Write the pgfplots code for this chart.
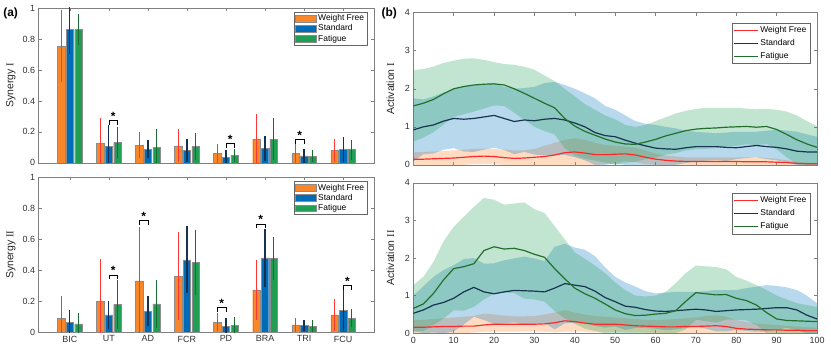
\documentclass[border=0pt]{standalone}
\usepackage{fontspec}
\setmainfont{Liberation Sans}
\newfontfamily\romanfont{Liberation Serif}
\usepackage{pgfplots}
\pgfplotsset{compat=1.18}
\usepackage{pgfplotstable}

\definecolor{cO}{RGB}{248,134,42}
\definecolor{cB}{RGB}{0,108,184}
\definecolor{cG}{RGB}{34,158,84}
\definecolor{eO}{RGB}{255,55,50}
\definecolor{eB}{RGB}{22,50,82}
\definecolor{eG}{RGB}{28,105,52}
\definecolor{lR}{RGB}{255,40,40}
\definecolor{lB}{RGB}{24,52,78}
\definecolor{lG}{RGB}{34,112,44}
\definecolor{fO}{RGB}{255,140,50}
\definecolor{fB}{RGB}{0,114,189}
\definecolor{fG}{RGB}{33,160,85}

% synergy weights: mean and sd per muscle
\pgfplotstableread{
x o oe b be g ge
1 0.755 0.215 0.860 0.140 0.860 0.085
2 0.125 0.147 0.108 0.119 0.132 0.082
3 0.114 0.067 0.089 0.041 0.100 0.105
4 0.110 0.090 0.080 0.057 0.105 0.070
5 0.060 0.045 0.035 0.030 0.050 0.025
6 0.153 0.143 0.093 0.065 0.153 0.119
7 0.062 0.044 0.045 0.026 0.043 0.023
8 0.080 0.057 0.086 0.062 0.086 0.048
}\synA
\pgfplotstableread{
x o oe b be g ge
1 0.090 0.130 0.062 0.065 0.054 0.053
2 0.198 0.255 0.112 0.075 0.180 0.140
3 0.331 0.334 0.137 0.078 0.183 0.140
4 0.363 0.270 0.467 0.200 0.450 0.195
5 0.066 0.040 0.040 0.033 0.043 0.040
6 0.273 0.177 0.480 0.170 0.475 0.120
7 0.047 0.026 0.043 0.020 0.040 0.021
8 0.112 0.085 0.140 0.118 0.090 0.042
}\synB

% activation profiles: mean, upper, lower
\pgfplotstableread{
t r ru rl n nu nl g gu gl
0 0.15 0.33 0 0.92 1.75 0.09 1.55 2.49 0.61
2.5 0.15 0.34 0 1.00 1.72 0.28 1.62 2.52 0.72
5 0.16 0.35 0 1.05 1.80 0.30 1.72 2.58 0.86
7.5 0.17 0.37 0 1.15 1.90 0.40 1.87 2.68 1.06
10 0.18 0.38 0 1.22 2.00 0.44 2.00 2.74 1.26
12.5 0.20 0.40 0 1.20 2.05 0.35 2.06 2.79 1.33
15 0.22 0.42 0.02 1.22 2.10 0.34 2.10 2.80 1.40
17.5 0.23 0.43 0.03 1.26 2.12 0.40 2.12 2.76 1.48
20 0.22 0.42 0.02 1.30 2.15 0.45 2.13 2.70 1.56
22.5 0.19 0.40 0 1.22 2.05 0.39 2.10 2.65 1.55
25 0.17 0.38 0 1.14 2.00 0.28 2.00 2.63 1.37
27.5 0.18 0.38 0 1.18 2.02 0.34 1.88 2.58 1.18
30 0.20 0.42 0 1.16 2.05 0.27 1.75 2.50 1.00
32.5 0.22 0.50 0 1.20 2.15 0.25 1.62 2.35 0.89
35 0.26 0.58 0 1.22 2.18 0.26 1.50 2.20 0.80
37.5 0.32 0.66 0 1.18 2.10 0.26 1.22 2.00 0.44
40 0.34 0.70 0 1.10 2.00 0.20 1.02 1.80 0.24
42.5 0.31 0.66 0 1.00 1.88 0.12 0.88 1.60 0.16
45 0.27 0.58 0 0.85 1.75 0 0.78 1.45 0.11
47.5 0.27 0.52 0.02 0.77 1.55 0 0.68 1.30 0.06
50 0.28 0.50 0.06 0.74 1.45 0.03 0.60 1.20 0
52.5 0.29 0.48 0.10 0.65 1.30 0 0.55 1.05 0.05
55 0.26 0.45 0.07 0.57 1.15 0 0.54 1.00 0.08
57.5 0.20 0.38 0.02 0.50 1.08 0 0.60 1.05 0.15
60 0.15 0.30 0 0.44 1.05 0 0.67 1.15 0.19
62.5 0.12 0.25 0 0.42 1.00 0 0.76 1.25 0.27
65 0.10 0.22 0 0.41 0.96 0 0.83 1.35 0.31
67.5 0.09 0.20 0 0.45 0.90 0.05 0.90 1.42 0.38
70 0.09 0.20 0 0.48 0.87 0.09 0.94 1.47 0.41
72.5 0.09 0.20 0 0.48 0.85 0.11 0.96 1.50 0.42
75 0.09 0.20 0 0.48 0.83 0.13 0.97 1.50 0.44
77.5 0.09 0.20 0 0.46 0.85 0.10 0.99 1.50 0.48
80 0.09 0.20 0 0.45 0.87 0.15 1.00 1.50 0.50
82.5 0.08 0.20 0 0.48 0.87 0.18 1.01 1.48 0.54
85 0.08 0.20 0 0.51 0.87 0.20 0.99 1.46 0.52
87.5 0.08 0.18 0 0.48 0.90 0.15 1.01 1.47 0.55
90 0.07 0.16 0 0.46 0.92 0.12 0.93 1.45 0.41
92.5 0.06 0.12 0 0.42 0.90 0.05 0.80 1.40 0.20
95 0.04 0.08 0 0.36 0.87 0 0.66 1.30 0.02
97.5 0.03 0.06 0 0.34 0.80 0 0.55 1.15 0
100 0.03 0.05 0 0.34 0.74 0 0.46 1.02 0
}\actA
\pgfplotstableread{
t r ru rl n nu nl g gu gl
0 0.16 0.35 0 0.53 1.00 0.06 0.66 1.28 0.04
2.5 0.16 0.36 0 0.62 1.25 0 0.78 1.50 0.06
5 0.17 0.38 0 0.75 1.50 0.02 1.06 1.90 0.22
7.5 0.18 0.40 0 0.82 1.68 0 1.42 2.45 0.39
10 0.18 0.42 0 0.93 1.81 0.05 1.72 2.83 0.61
12.5 0.19 0.44 0 1.10 1.97 0.23 1.77 3.10 0.60
15 0.19 0.46 0.02 1.22 2.00 0.44 1.85 3.36 0.70
17.5 0.22 0.52 0.04 1.10 1.85 0.35 2.20 3.60 0.90
20 0.24 0.50 0.04 1.05 1.86 0.24 2.30 3.55 1.05
22.5 0.24 0.47 0.04 1.10 1.94 0.26 2.24 3.42 1.08
25 0.24 0.45 0.04 1.14 1.99 0.29 2.26 3.45 1.07
27.5 0.24 0.45 0.05 1.13 2.04 0.22 2.20 3.48 0.92
30 0.24 0.46 0.05 1.12 1.99 0.25 2.10 3.30 0.90
32.5 0.25 0.50 0.04 1.10 1.92 0.28 2.02 3.20 0.84
35 0.28 0.55 0.03 1.20 2.30 0.10 1.72 2.85 0.59
37.5 0.33 0.62 0.04 1.32 2.38 0.26 1.45 2.50 0.40
40 0.31 0.55 0.05 1.28 2.28 0.28 1.20 2.15 0.25
42.5 0.27 0.50 0.04 1.24 2.22 0.26 1.05 1.98 0.12
45 0.24 0.46 0.02 1.12 2.05 0.19 0.93 1.80 0.06
47.5 0.24 0.44 0.02 0.95 1.75 0.15 0.78 1.60 0
50 0.24 0.42 0.04 0.84 1.50 0.18 0.62 1.35 0
52.5 0.22 0.40 0.03 0.72 1.35 0.09 0.52 1.15 0
55 0.20 0.38 0.02 0.69 1.24 0.14 0.47 1.00 0
57.5 0.19 0.36 0.02 0.63 1.12 0.14 0.48 0.98 0
60 0.18 0.35 0.01 0.59 1.06 0.12 0.51 1.00 0.02
62.5 0.17 0.36 0 0.58 1.08 0.08 0.53 1.10 0
65 0.17 0.38 0 0.60 1.10 0.10 0.60 1.33 0
67.5 0.18 0.40 0 0.62 1.10 0.14 0.85 1.60 0.10
70 0.18 0.42 0 0.64 1.10 0.18 1.08 1.80 0.36
72.5 0.19 0.46 0 0.62 1.12 0.12 1.05 1.78 0.32
75 0.20 0.48 0 0.58 1.15 0.05 1.02 1.76 0.28
77.5 0.18 0.44 0 0.60 1.15 0.05 1.03 1.70 0.36
80 0.13 0.35 0 0.62 1.15 0.09 0.93 1.50 0.36
82.5 0.11 0.30 0 0.63 1.20 0.06 0.87 1.40 0.34
85 0.10 0.26 0 0.64 1.24 0.04 0.75 1.28 0.22
87.5 0.09 0.24 0 0.66 1.28 0.04 0.55 1.15 0
90 0.09 0.22 0 0.68 1.26 0.10 0.38 1.00 0
92.5 0.08 0.20 0 0.68 1.22 0.14 0.34 0.90 0
95 0.08 0.18 0 0.62 1.15 0.09 0.33 0.80 0
97.5 0.07 0.16 0 0.48 1.00 0 0.32 0.75 0
100 0.07 0.15 0 0.38 0.80 0 0.31 0.70 0
}\actB

\pgfplotsset{
  base/.style={scale only axis,
    axis line style={black!50, line width=0.5pt},
    tick style={black!50, line width=0.5pt},
    tick align=inside, major tick length=3bp,
    ticklabel style={font=\fontsize{9}{10}\selectfont, text=black!80},
    /pgf/number format/assume math mode=true,
    label style={font=\fontsize{10.5}{12}\selectfont, text=black!85},
    legend cell align=left},
  barpanel/.style={base, xmin=0.2, xmax=8.8, ymin=0, ymax=1,
    xtick={1,...,8}, ytick={0,0.2,0.4,0.6,0.8,1},
    ylabel style={at={(axis description cs:-0.083,0.5)}, anchor=center},
    legend style={at={(1,1)}, anchor=north east, xshift=-7bp, yshift=-4bp,
      draw=black!60, line width=0.4pt, font=\fontsize{8.5}{9}\selectfont,
      inner xsep=1bp, inner ysep=0.5bp, row sep=-1.5bp}},
  linepanel/.style={base, xmin=0, xmax=100, ymin=0, ymax=4,
    xtick={0,10,...,100}, ytick={0,1,2,3,4},
    ylabel style={at={(axis description cs:-0.057,0.5)}, anchor=center},
    legend style={at={(1,1)}, anchor=north east, xshift=-7bp, yshift=-10bp,
      draw=black!60, line width=0.4pt, font=\fontsize{8.5}{9}\selectfont,
      inner xsep=1.5bp, inner ysep=1.5bp, row sep=1.5bp}},
  bars/.style={ybar, bar width=0.19, bar shift=0pt, fill=#1, draw=black!45,
    line width=0.4pt,
    legend image code/.code={\draw[##1, line width=0.5pt] (0bp,-3.3bp) rectangle (21bp,3.3bp);}},
  errs/.style={forget plot, draw=none, mark=none,
    error bars/.cd, y dir=both, y explicit, error mark=-,
    error bar style={draw=#1, line width=1.2pt, solid},
    error mark options={draw=#1, line width=1.2pt, mark size=2.6bp, solid}},
  mline/.style={draw=#1, line width=1.2pt, no markers,
    legend image code/.code={\draw[##1] (0bp,0bp) -- (24bp,0bp);}},
  band/.style={stack plots=y, draw=none, forget plot, no markers},
}

% significance bracket: x1, x2, xmid, height
\newcommand{\sig}[4]{%
  \draw[black, line width=0.6pt] (axis cs:#1,#4) ++(0bp,-4.5bp) -- ++(0bp,4.5bp) -- (axis cs:#2,#4) -- ++(0bp,-4.5bp);
  \node[anchor=base, inner sep=0pt, font=\fontsize{12}{12}\selectfont\bfseries] at (axis cs:#3,#4) {*};}

\newcommand{\synbars}[1]{%
  \addplot[bars=cO] table[x expr=\thisrow{x}-0.22, y=o]{#1};
  \addlegendentry{Weight Free}
  \addplot[bars=cB] table[x=x, y=b]{#1};
  \addlegendentry{Standard}
  \addplot[bars=cG] table[x expr=\thisrow{x}+0.22, y=g]{#1};
  \addlegendentry{Fatigue}
  \addplot[errs=eO] table[x expr=\thisrow{x}-0.22, y=o, y error=oe]{#1};
  \addplot[errs=eB] table[x=x, y=b, y error=be]{#1};
  \addplot[errs=eG] table[x expr=\thisrow{x}+0.22, y=g, y error=ge]{#1};}

% shaded bands are stacked: invisible step up to the lower edge, filled step to the upper edge
\newcommand{\actplots}[1]{%
  \addplot[band] table[x=t, y=rl]{#1};
  \addplot[band, fill=fO, fill opacity=0.3] table[x=t, y expr=\thisrow{ru}-\thisrow{rl}]{#1} \closedcycle;
  \addplot[band] table[x=t, y expr=\thisrow{nl}-\thisrow{ru}]{#1};
  \addplot[band, fill=fB, fill opacity=0.28] table[x=t, y expr=\thisrow{nu}-\thisrow{nl}]{#1} \closedcycle;
  \addplot[band] table[x=t, y expr=\thisrow{gl}-\thisrow{nu}]{#1};
  \addplot[band, fill=fG, fill opacity=0.28] table[x=t, y expr=\thisrow{gu}-\thisrow{gl}]{#1} \closedcycle;
  \addplot[mline=lR, forget plot] table[x=t, y=r]{#1};
  \addplot[mline=lB, forget plot] table[x=t, y=n]{#1};
  \addplot[mline=lG, forget plot] table[x=t, y=g]{#1};
  \addlegendimage{mline=lR}
  \addlegendentry{Weight Free}
  \addlegendimage{mline=lB}
  \addlegendentry{Standard}
  \addlegendimage{mline=lG}
  \addlegendentry{Fatigue}}

\begin{document}
\begin{tikzpicture}
\path (0bp,0bp) rectangle (831bp,355bp);

\node[font=\fontsize{12}{13}\selectfont\bfseries] at (10bp,342bp) {(a)};
\node[font=\fontsize{12}{13}\selectfont\bfseries] at (389bp,342bp) {(b)};

\begin{axis}[barpanel, at={(38bp,192bp)}, anchor=south west, width=336bp, height=155bp,
  xticklabels={}, ylabel={Synergy {\romanfont I}}]
\synbars{\synA}
\sig{2}{2.22}{2.11}{0.275}
\sig{5}{5.22}{5.11}{0.125}
\sig{6.78}{7}{6.89}{0.15}
\end{axis}

\begin{axis}[barpanel, at={(38bp,22.5bp)}, anchor=south west, width=336bp, height=155bp,
  xticklabels={BIC,UT,AD,FCR,PD,BRA,TRI,FCU}, ylabel={Synergy {\romanfont II}}]
\synbars{\synB}
\sig{2}{2.22}{2.11}{0.37}
\sig{2.78}{3}{2.89}{0.72}
\sig{4.78}{5}{4.89}{0.16}
\sig{5.78}{6}{5.89}{0.70}
\sig{8}{8.22}{8.11}{0.305}
\end{axis}

\begin{axis}[linepanel, at={(413bp,190bp)}, anchor=south west, width=404bp, height=152.3bp,
  xticklabels={}, ylabel={Activation {\romanfont I}}]
\actplots{\actA}
\end{axis}

\begin{axis}[linepanel, at={(413bp,21.5bp)}, anchor=south west, width=404bp, height=150.5bp,
  ylabel={Activation {\romanfont II}}]
\actplots{\actB}
\end{axis}
\end{tikzpicture}
\end{document}
